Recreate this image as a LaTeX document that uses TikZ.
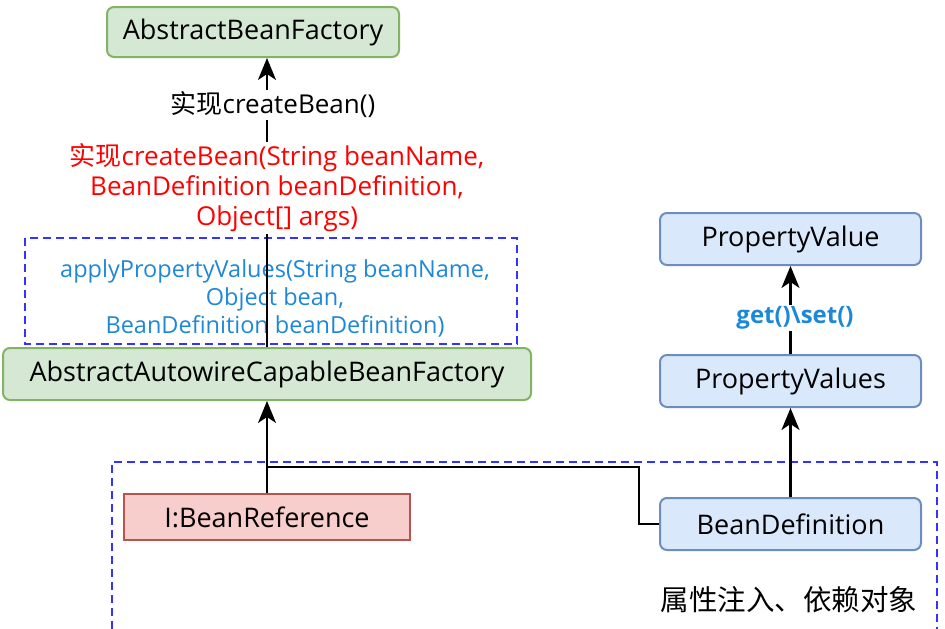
\documentclass[tikz,border=0pt]{standalone}
\usepackage{fontspec}
\setmainfont{Open Sans}
\newfontfamily\cjk{Noto Sans CJK SC}
\usetikzlibrary{arrows.meta,positioning}
\usepackage{xcolor}
\definecolor{grnfill}{HTML}{D5E8D4}
\definecolor{grnline}{HTML}{82B366}
\definecolor{bluefill}{HTML}{DAE8FC}
\definecolor{blueline}{HTML}{6C8EBF}
\definecolor{redfill}{HTML}{F8CECC}
\definecolor{redline}{HTML}{B85450}
\definecolor{groupblue}{HTML}{3333FF}
\definecolor{calltext}{HTML}{1E88D8}

\begin{document}
\begin{tikzpicture}[x=1pt, y=-1pt, font=\fontsize{27}{32}\selectfont,
    cls/.style={draw=grnline, fill=grnfill, line width=2pt, rounded corners=7pt, inner sep=0pt},
    bean/.style={draw=blueline, fill=bluefill, line width=2pt, rounded corners=7pt, inner sep=0pt,
      minimum width=261pt, minimum height=52pt},
    iface/.style={draw=redline, fill=redfill, line width=2pt, inner sep=0pt},
    group/.style={draw=groupblue, line width=1.6pt, dash pattern=on 8pt off 5pt},
    arr/.style={line width=2.2pt, -{Stealth[length=22pt, width=18pt, inset=6pt]}},
    conn/.style={line width=2.2pt},
    lbl/.style={fill=white, inner sep=2pt, align=center}]
    \useasboundingbox (0,0) rectangle (945,629);

    \node[cls, minimum width=292pt, minimum height=50pt] (abf) at (253,32) {AbstractBeanFactory};
    \node[cls, minimum width=528pt, minimum height=52pt] (aacbf) at (267,374) {AbstractAutowireCapableBeanFactory};
    \node[iface, minimum width=286pt, minimum height=46pt] (bref) at (267,517) {I:BeanReference};
    \node[bean] (bdef) at (790.5,524) {BeanDefinition};
    \node[bean] (pvs) at (790.5,381) {PropertyValues};
    \node[bean] (pv) at (790.5,239) {PropertyValue};

    \draw[group] (25,238) rectangle (517,344);
    \draw[group] (112,629) -- (112,462) -- (937,462) -- (937,629);

    \node[align=center, text=calltext, font=\fontsize{23.5}{28}\selectfont] (apply) at (275,298)
      {applyPropertyValues(String beanName,\\Object bean,\\BeanDefinition beanDefinition)};

    \draw[arr] (aacbf.north) -- (aacbf.north |- abf.south);
    \node[lbl, font=\fontsize{26}{30}\selectfont] (impl) at (273,105) {{\cjk 实现}createBean()};
    \node[lbl, text=red, font=\fontsize{26}{30}\selectfont] (impldetail) at (277,188)
      {{\cjk 实现}createBean(String beanName,\\BeanDefinition beanDefinition,\\Object[] args)};

    \coordinate (join) at (267,467);
    \draw[arr] (bref) -- (aacbf);
    \draw[conn] (bdef.west) -- ++(-20,0) |- (join);
    \draw[arr] (bdef) -- (pvs);
    \draw[arr] (pvs) -- (pv);
    \node[lbl, text=calltext, font=\bfseries\fontsize{24}{30}\selectfont] (getset) at (795,318) {get()\textbackslash set()};

    \node[anchor=east, font=\fontsize{28.5}{32}\selectfont] (note) at (921,600) {\cjk 属性注入、依赖对象};
\end{tikzpicture}
\end{document}
